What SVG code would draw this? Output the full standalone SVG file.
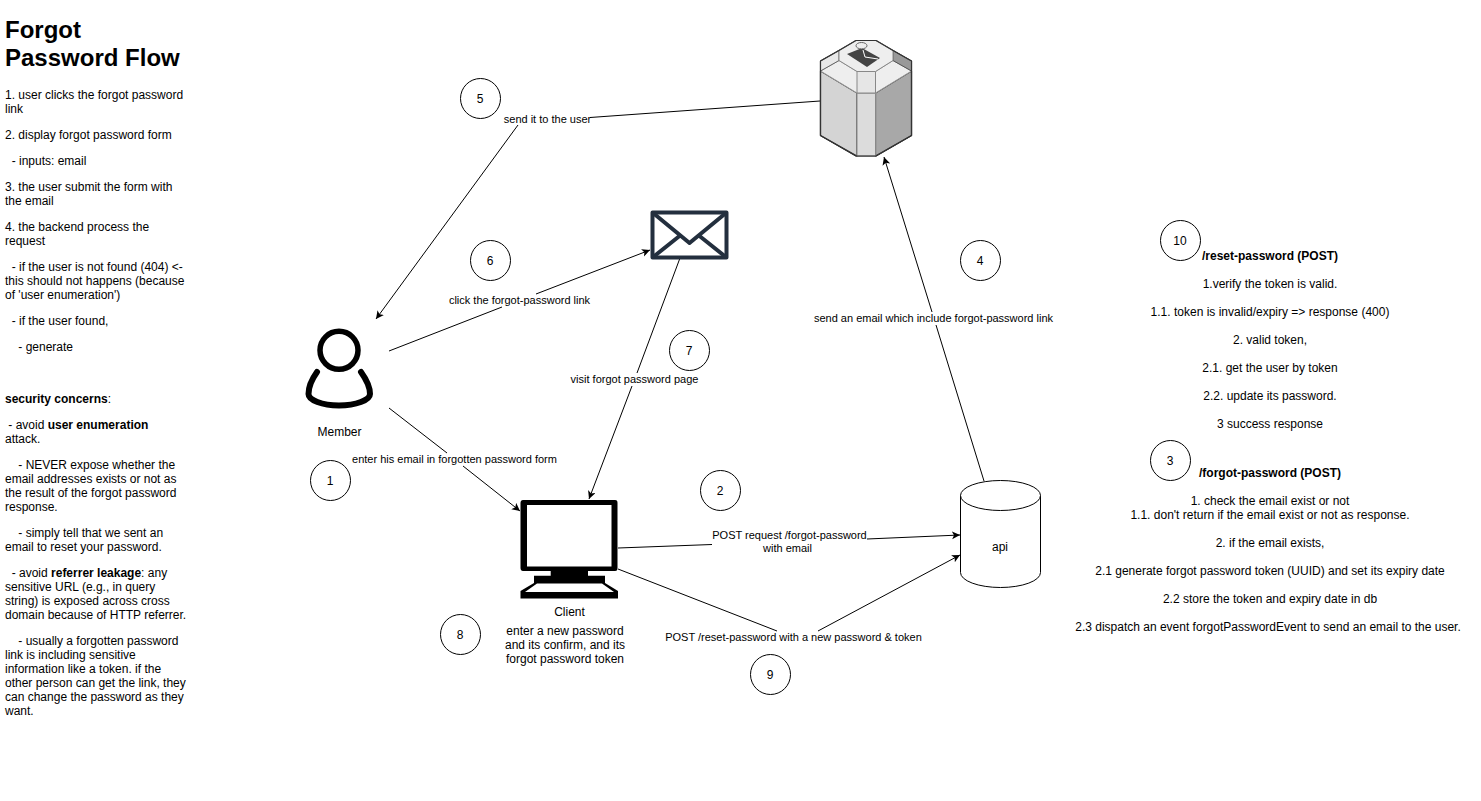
<svg xmlns="http://www.w3.org/2000/svg" width="1481" height="801" viewBox="0 0 1481 801">
<style>
text{font-family:"Liberation Sans",Arial,Helvetica,sans-serif;font-size:12px;fill:#000}
.m{text-anchor:middle}
.b{font-weight:bold}
.c{fill:#fff;stroke:#000;stroke-width:1}
.l{fill:none;stroke:#000;stroke-width:1}
.t{font-size:24px;font-weight:bold}
.e{fill:none;stroke:#232f3e;stroke-width:4;stroke-linejoin:round}
.u{fill:none;stroke:#000;stroke-width:6;stroke-linecap:round}
.i{stroke:#333;stroke-width:1.2;stroke-linejoin:round}
#connector-labels text{font-size:11px}
</style>
<defs>
<marker id="a" markerWidth="10" markerHeight="10" refX="8" refY="4" orient="auto" markerUnits="userSpaceOnUse"><path d="M0 0L8 4L0 8L2 4Z" fill="#000"/></marker>
</defs>
<g id="title-text">
<text class="t" x="5" y="38">Forgot</text>
<text class="t" x="5" y="66">Password Flow</text>
</g>
<g id="steps-text">
<text x="5" y="99">1. user clicks the forgot password</text>
<text x="5" y="113">link</text>
<text x="5" y="139">2. display forgot password form</text>
<text x="5" y="165" xml:space="preserve">  - inputs: email</text>
<text x="5" y="191">3. the user submit the form with</text>
<text x="5" y="205">the email</text>
<text x="5" y="231">4. the backend process the</text>
<text x="5" y="245">request</text>
<text x="5" y="271" xml:space="preserve">  - if the user is not found (404) &lt;-</text>
<text x="5" y="285">this should not happens (because</text>
<text x="5" y="299">of 'user enumeration')</text>
<text x="5" y="325" xml:space="preserve">  - if the user found,</text>
<text x="5" y="351" xml:space="preserve">    - generate</text>
<text x="5" y="403"><tspan class="b">security concerns</tspan>:</text>
<text x="5" y="429" xml:space="preserve"> - avoid <tspan class="b">user enumeration</tspan></text>
<text x="5" y="443">attack.</text>
<text x="5" y="469" xml:space="preserve">    - NEVER expose whether the</text>
<text x="5" y="483">email addresses exists or not as</text>
<text x="5" y="497">the result of the forgot password</text>
<text x="5" y="511">response.</text>
<text x="5" y="537" xml:space="preserve">    - simply tell that we sent an</text>
<text x="5" y="551">email to reset your password.</text>
<text x="5" y="577" xml:space="preserve">  - avoid <tspan class="b">referrer leakage</tspan>: any</text>
<text x="5" y="591">sensitive URL (e.g., in query</text>
<text x="5" y="605">string) is exposed across cross</text>
<text x="5" y="619">domain because of HTTP referrer.</text>
<text x="5" y="645" xml:space="preserve">    - usually a forgotten password</text>
<text x="5" y="659">link is including sensitive</text>
<text x="5" y="673">information like a token. if the</text>
<text x="5" y="687">other person can get the link, they</text>
<text x="5" y="701">can change the password as they</text>
<text x="5" y="715">want.</text>
</g>
<g id="connectors">
<path class="l" d="M820 101L590 117.500"/>
<path class="l" d="M518 125L376 319" marker-end="url(#a)"/>
<path class="l" d="M389 351L502 307M536 294L650 250" marker-end="url(#a)"/>
<path class="l" d="M680 258L637 373M632 386L589 499" marker-end="url(#a)"/>
<path class="l" d="M389 408L447 453M463 466L520 511" marker-end="url(#a)"/>
<path class="l" d="M618 548L712 544.500M867 539L960 535" marker-end="url(#a)"/>
<path class="l" d="M618 569L777 631M818 631L960 555" marker-end="url(#a)"/>
<path class="l" d="M984 481L936 325M932 312L884 157" marker-end="url(#a)"/>
</g>
<g id="connector-labels">
<text class="m" x="547.500" y="123">send it to the user</text>
<text class="m" x="519.500" y="304">click the forgot-password link</text>
<text class="m" x="634.500" y="383">visit forgot password page</text>
<text class="m" x="454.500" y="463">enter his email in forgotten password form</text>
<text class="m" x="789.500" y="539">POST request /forgot-password</text>
<text class="m" x="787.500" y="552">with email</text>
<text class="m" x="793.500" y="641">POST /reset-password with a new password &amp; token</text>
<text class="m" x="933.500" y="322">send an email which include forgot-password link</text>
</g>
<g id="email-service">
<path d="M820.500 61L839 50.500L856 40.500H876L893 50.500L911.500 61V135.500L876 156H856L820.500 135.500Z" fill="#e0e0e0" class="i"/>
<path d="M820.500 71L857 93V156L820.500 135.500Z" fill="#d4d4d4" class="i"/>
<path d="M911.500 71L875.500 93V156L911.500 135.500Z" fill="#a8a8a8" class="i"/>
<path d="M857 93H875.500V156H857Z" fill="#dcdcdc" stroke="#888"/>
<path d="M839 60.500L857 71.500H875.500L893 60.500L911.500 71L875.500 93H857L820.500 71Z" fill="#eee" stroke="#999"/>
<path d="M857 71.500H875.500V93H857Z" fill="#e6e6e6" stroke="#888"/>
<path d="M820.500 61L839 50.500V60.500L820.500 71Z" fill="#e8e8e8" stroke="#666"/>
<path d="M893 50.500L911.500 61V71L893 60.500Z" fill="#999" stroke="#555"/>
<path d="M839 50.500L856 40.500H876L893 50.500V60.500L875.500 71.500H857L839 60.500Z" fill="#eee" stroke="#888"/>
<path d="M847 54L862 48L880 58L867 67Z" fill="#444"/>
<path d="M863 50L865 57L878 59" fill="none" stroke="#fff"/>
<ellipse cx="861.500" cy="45.700" rx="5.500" ry="3.200" fill="#eee" stroke="#666"/>
<path d="M820.500 61L839 50.500L856 40.500H876L893 50.500L911.500 61V135.500L876 156H856L820.500 135.500Z" fill="none" stroke="#333" stroke-width="1.200"/>
</g>
<g id="envelope">
<path class="e" d="M652.500 212.500H726.500V257.500H652.500Z"/>
<path class="e" d="M652.500 212.500L689.500 243L726.500 212.500M652.500 257.500L679.500 236M726.500 257.500L699.500 236"/>
</g>
<g id="member">
<circle cx="339" cy="350.300" r="19" fill="none" stroke="#000" stroke-width="5.500"/>
<path class="u" d="M317 372C312 379 308.500 387 308.500 394C308.500 400 322 405.500 339 405.500C356 405.500 370 400 370 394C370 387 366 379 361 372"/>
<text class="m" x="339.500" y="436">Member</text>
</g>
<g id="client">
<path d="M523 500H615C617 500 617.500 501 617.500 503V568C617.500 570 617 571 615 571H588V575.700H605V583L618 591V598.500H520.500V591L534 583V575.700H550.700V571H523C521.500 571 520.500 570 520.500 568V503C520.500 501 521.500 500 523 500Z" fill="#000"/>
<rect x="527" y="505" width="84.500" height="61.500" fill="#fff"/>
<path d="M525 592L537 583.500H602L614 592Z" fill="#fff"/>
<text class="m" x="569.500" y="616">Client</text>
<text class="m" x="565" y="635">enter a new password</text>
<text class="m" x="565" y="649">and its confirm, and its</text>
<text class="m" x="565" y="663">forgot password token</text>
</g>
<g id="api">
<path class="c" d="M960.500 495.500V572.500A40 15 0 0 0 1040.500 572.500V495.500"/>
<ellipse class="c" cx="1000.500" cy="495.500" rx="40" ry="15"/>
<text class="m" x="1000" y="551">api</text>
</g>
<g id="reset-notes">
<text class="m b" x="1270" y="260">/reset-password (POST)</text>
<text class="m" x="1270" y="288">1.verify the token is valid.</text>
<text class="m" x="1270" y="316">1.1. token is invalid/expiry =&gt; response (400)</text>
<text class="m" x="1270" y="344">2. valid token,</text>
<text class="m" x="1270" y="372">2.1. get the user by token</text>
<text class="m" x="1270" y="400">2.2. update its password.</text>
<text class="m" x="1270" y="428">3 success response</text>
</g>
<g id="forgot-notes">
<text class="m b" x="1270" y="477">/forgot-password (POST)</text>
<text class="m" x="1270" y="505">1. check the email exist or not</text>
<text class="m" x="1270" y="519">1.1. don't return if the email exist or not as response.</text>
<text class="m" x="1270" y="547">2. if the email exists,</text>
<text class="m" x="1270" y="575">2.1 generate forgot password token (UUID) and set its expiry date</text>
<text class="m" x="1270" y="603">2.2 store the token and expiry date in db</text>
<text class="m" x="1268" y="631">2.3 dispatch an event forgotPasswordEvent to send an email to the user.</text>
</g>
<g id="step-1"><circle class="c" cx="330.500" cy="480.500" r="20"/><text class="m" x="330" y="485">1</text></g>
<g id="step-2"><circle class="c" cx="720.500" cy="490.500" r="20"/><text class="m" x="720" y="495">2</text></g>
<g id="step-3"><circle class="c" cx="1170.500" cy="460.500" r="20"/><text class="m" x="1170" y="465">3</text></g>
<g id="step-4"><circle class="c" cx="980.500" cy="260.500" r="20"/><text class="m" x="980" y="265">4</text></g>
<g id="step-5"><circle class="c" cx="480.500" cy="98.500" r="20"/><text class="m" x="480" y="103">5</text></g>
<g id="step-6"><circle class="c" cx="490.500" cy="260.500" r="20"/><text class="m" x="490" y="265">6</text></g>
<g id="step-7"><circle class="c" cx="689.500" cy="350.500" r="20"/><text class="m" x="689" y="355">7</text></g>
<g id="step-8"><circle class="c" cx="460.500" cy="634.500" r="20"/><text class="m" x="460" y="639">8</text></g>
<g id="step-9"><circle class="c" cx="770.500" cy="674.500" r="20"/><text class="m" x="770" y="679">9</text></g>
<g id="step-10"><circle class="c" cx="1180.500" cy="240.500" r="20"/><text class="m" x="1180" y="245">10</text></g>
</svg>
